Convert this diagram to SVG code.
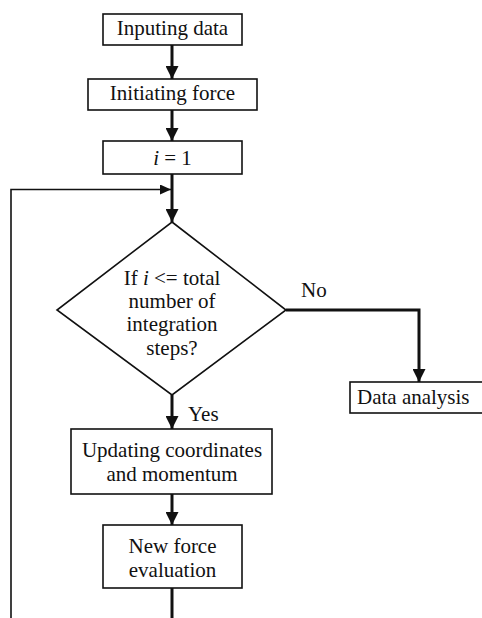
<svg xmlns="http://www.w3.org/2000/svg" width="482" height="618" viewBox="0 0 482 618">
  <defs>
    <style>
      .box { fill: #fff; stroke: #111; stroke-width: 1.6; }
      .lbl { font-family: 'Liberation Serif', 'Times New Roman', Tinos, 'DejaVu Serif', serif; font-size: 21px; fill: #111; text-anchor: middle; }
      .side { font-family: 'Liberation Serif', 'Times New Roman', Tinos, 'DejaVu Serif', serif; font-size: 21px; fill: #111; }
      .thick { fill: none; stroke: #111; stroke-width: 3; }
      .thin { fill: none; stroke: #111; stroke-width: 1.6; }
      .it { font-style: italic; }
    </style>
    <marker id="head" markerWidth="13" markerHeight="13" viewBox="0 0 13 13" refX="13" refY="6.5" orient="auto" markerUnits="userSpaceOnUse">
      <path d="M0,0 L13,6.5 L0,13 Z" fill="#111"/>
    </marker>
    <marker id="headSmall" markerWidth="11" markerHeight="10" viewBox="0 0 11 10" refX="11" refY="5" orient="auto" markerUnits="userSpaceOnUse">
      <path d="M0,0 L11,5 L0,10 Z" fill="#111"/>
    </marker>
  </defs>

  <rect width="482" height="618" fill="#fff"/>

  <!-- connectors -->
  <g id="connectors">
    <line class="thick" x1="172" y1="45" x2="172" y2="79" marker-end="url(#head)"/>
    <line class="thick" x1="172" y1="110" x2="172" y2="141" marker-end="url(#head)"/>
    <line class="thick" x1="172" y1="174" x2="172" y2="222" marker-end="url(#head)"/>
    <!-- loop back from the bottom -->
    <polyline class="thin" points="11,618 11,189.5 171,189.5" marker-end="url(#headSmall)"/>
    <!-- No branch -->
    <polyline class="thick" points="286,310 419,310 419,382" marker-end="url(#head)"/>
    <!-- Yes branch -->
    <line class="thick" x1="172" y1="395" x2="172" y2="429" marker-end="url(#head)"/>
    <line class="thick" x1="172" y1="494" x2="172" y2="525" marker-end="url(#head)"/>
    <line class="thick" x1="172" y1="588" x2="172" y2="618"/>
    <text class="side" x="301" y="297" font-family="Liberation Serif, serif">No</text>
    <text class="side" x="188" y="421" font-family="Liberation Serif, serif">Yes</text>
  </g>

  <g id="input-data">
    <rect class="box" x="103" y="14" width="139" height="31"/>
    <text class="lbl" x="172.5" y="35">Inputing data</text>
  </g>

  <g id="init-force">
    <rect class="box" x="88" y="79" width="169" height="31"/>
    <text class="lbl" x="172.5" y="100">Initiating force</text>
  </g>

  <g id="init-i">
    <rect class="box" x="103" y="141" width="139" height="33"/>
    <text class="lbl" x="172.5" y="165"><tspan class="it">i</tspan> = 1</text>
  </g>

  <g id="decision">
    <polygon class="box" points="172,222 286,310 172,395 57,310"/>
    <text class="lbl" x="172" y="285">If <tspan class="it">i</tspan> &lt;= total</text>
    <text class="lbl" x="172" y="308">number of</text>
    <text class="lbl" x="172" y="331">integration</text>
    <text class="lbl" x="172" y="355">steps?</text>
  </g>

  <g id="data-analysis">
    <rect class="box" x="350" y="382" width="136" height="31"/>
    <text class="side" x="357" y="404">Data analysis</text>
  </g>

  <g id="update">
    <rect class="box" x="71" y="429" width="201" height="65"/>
    <text class="lbl" x="172" y="457">Updating coordinates</text>
    <text class="lbl" x="172" y="481">and momentum</text>
  </g>

  <g id="new-force">
    <rect class="box" x="103" y="525" width="139" height="63"/>
    <text class="lbl" x="172.5" y="553">New force</text>
    <text class="lbl" x="172.5" y="577">evaluation</text>
  </g>
</svg>
